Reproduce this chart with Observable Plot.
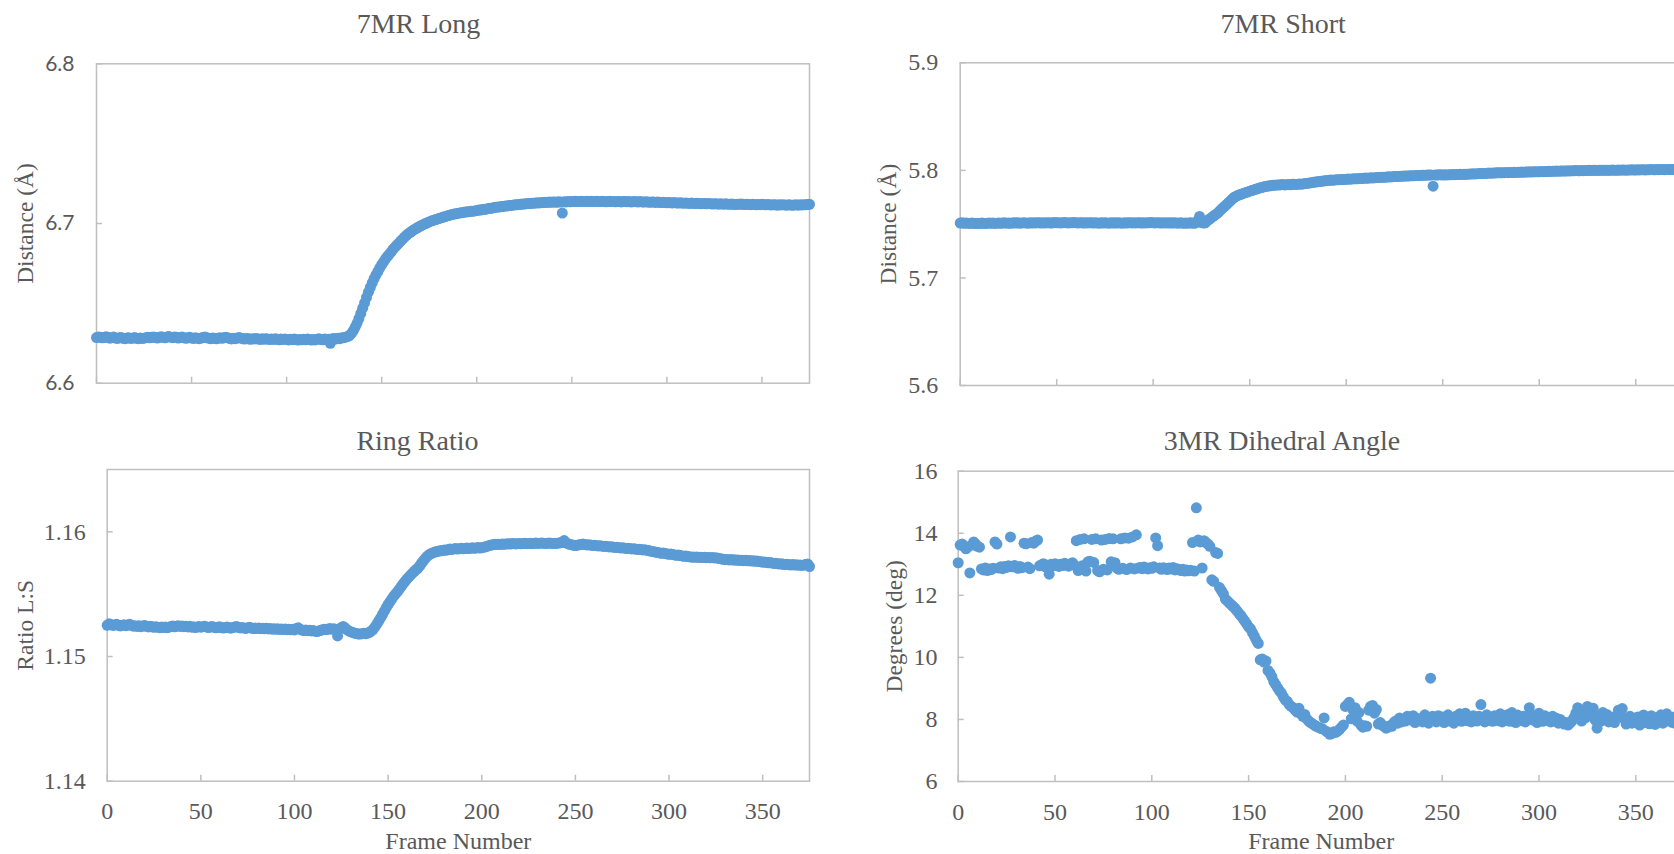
<!DOCTYPE html>
<html>
<head>
<meta charset="utf-8">
<script src="https://cdn.jsdelivr.net/npm/d3@7"></script>
<script src="https://cdn.jsdelivr.net/npm/@observablehq/plot@0.6"></script>
<style>
  html, body { margin: 0; padding: 0; background: #fff; overflow: hidden; }
  #page { position: relative; width: 1674px; height: 854px; overflow: hidden; background: #fff; }
  #page svg { position: absolute; }
</style>
</head>
<body>
<div id="page"></div>
<script>
// Frame-by-frame measurements, frames 0..375 (index = frame number)
const longDist = [
  6.6286,6.6290,6.6288,6.6284,6.6286,6.6291,6.6287,6.6282,6.6285,6.6289,
  6.6283,6.6280,6.6284,6.6286,6.6281,6.6279,6.6283,6.6285,6.6280,6.6282,
  6.6286,6.6281,6.6279,6.6283,6.6280,6.6282,6.6285,6.6288,6.6284,6.6287,
  6.6290,6.6286,6.6283,6.6288,6.6291,6.6287,6.6284,6.6289,6.6292,6.6288,
  6.6285,6.6290,6.6287,6.6283,6.6286,6.6289,6.6285,6.6281,6.6284,6.6287,
  6.6283,6.6280,6.6284,6.6282,6.6279,6.6283,6.6286,6.6289,6.6285,6.6282,
  6.6279,6.6283,6.6281,6.6278,6.6282,6.6285,6.6281,6.6284,6.6288,6.6284,
  6.6280,6.6277,6.6281,6.6279,6.6283,6.6286,6.6282,6.6279,6.6276,6.6280,
  6.6278,6.6275,6.6279,6.6277,6.6280,6.6276,6.6274,6.6278,6.6275,6.6279,
  6.6276,6.6273,6.6277,6.6274,6.6278,6.6275,6.6272,6.6276,6.6274,6.6277,
  6.6274,6.6271,6.6275,6.6273,6.6276,6.6273,6.6270,6.6274,6.6272,6.6275,
  6.6272,6.6276,6.6273,6.6270,6.6274,6.6271,6.6275,6.6278,6.6274,6.6272,
  6.6276,6.6273,6.6275,6.6250,6.6278,6.6280,6.6277,6.6282,6.6279,6.6284,
  6.6285,6.6288,6.6292,6.6298,6.6310,6.6328,6.6350,6.6375,6.6405,6.6437,
  6.6470,6.6503,6.6537,6.6570,6.6600,6.6628,6.6655,6.6678,6.6700,6.6722,
  6.6742,6.6760,6.6778,6.6794,6.6808,6.6823,6.6839,6.6852,6.6864,6.6877,
  6.6890,6.6902,6.6915,6.6926,6.6936,6.6945,6.6953,6.6961,6.6968,6.6975,
  6.6982,6.6988,6.6994,6.7000,6.7005,6.7010,6.7015,6.7019,6.7023,6.7027,
  6.7031,6.7035,6.7039,6.7042,6.7046,6.7050,6.7053,6.7056,6.7059,6.7061,
  6.7063,6.7066,6.7068,6.7070,6.7072,6.7073,6.7074,6.7076,6.7077,6.7079,
  6.7081,6.7084,6.7084,6.7088,6.7089,6.7090,6.7094,6.7095,6.7096,6.7100,
  6.7101,6.7103,6.7104,6.7106,6.7107,6.7110,6.7110,6.7113,6.7113,6.7115,
  6.7117,6.7117,6.7119,6.7120,6.7122,6.7122,6.7124,6.7125,6.7125,6.7127,
  6.7127,6.7128,6.7130,6.7129,6.7131,6.7131,6.7133,6.7132,6.7134,6.7133,
  6.7134,6.7135,6.7133,6.7136,6.7134,6.7065,6.7136,6.7135,6.7137,6.7136,
  6.7138,6.7137,6.7139,6.7137,6.7138,6.7140,6.7138,6.7137,6.7139,6.7138,
  6.7139,6.7137,6.7138,6.7140,6.7138,6.7137,6.7139,6.7138,6.7136,6.7138,
  6.7139,6.7137,6.7138,6.7136,6.7138,6.7137,6.7135,6.7137,6.7138,6.7136,
  6.7137,6.7135,6.7136,6.7138,6.7136,6.7135,6.7137,6.7135,6.7134,6.7136,
  6.7135,6.7133,6.7135,6.7134,6.7132,6.7134,6.7133,6.7131,6.7133,6.7132,
  6.7130,6.7132,6.7130,6.7129,6.7131,6.7129,6.7128,6.7130,6.7128,6.7127,
  6.7129,6.7127,6.7126,6.7128,6.7126,6.7125,6.7127,6.7125,6.7124,6.7126,
  6.7125,6.7123,6.7125,6.7124,6.7122,6.7124,6.7123,6.7121,6.7123,6.7122,
  6.7121,6.7123,6.7121,6.7120,6.7122,6.7121,6.7119,6.7121,6.7120,6.7122,
  6.7120,6.7119,6.7121,6.7119,6.7118,6.7120,6.7119,6.7117,6.7119,6.7118,
  6.7120,6.7118,6.7117,6.7119,6.7117,6.7116,6.7118,6.7117,6.7115,6.7117,
  6.7116,6.7118,6.7116,6.7115,6.7117,6.7116,6.7114,6.7116,6.7117,6.7115,
  6.7117,6.7116,6.7118,6.7117,6.7119,6.7120
];

const shortDist = [
  5.7510,5.7512,5.7508,5.7511,5.7509,5.7507,5.7510,5.7508,5.7506,5.7509,
  5.7507,5.7510,5.7508,5.7506,5.7509,5.7511,5.7508,5.7510,5.7507,5.7509,
  5.7511,5.7508,5.7510,5.7512,5.7509,5.7511,5.7508,5.7510,5.7513,5.7510,
  5.7512,5.7509,5.7511,5.7514,5.7511,5.7509,5.7512,5.7510,5.7513,5.7511,
  5.7514,5.7512,5.7510,5.7513,5.7511,5.7514,5.7512,5.7510,5.7513,5.7515,
  5.7512,5.7514,5.7511,5.7513,5.7516,5.7513,5.7511,5.7514,5.7512,5.7515,
  5.7513,5.7511,5.7514,5.7512,5.7510,5.7513,5.7511,5.7514,5.7512,5.7510,
  5.7513,5.7511,5.7509,5.7512,5.7510,5.7513,5.7511,5.7509,5.7512,5.7510,
  5.7512,5.7510,5.7513,5.7511,5.7509,5.7512,5.7510,5.7512,5.7514,5.7511,
  5.7513,5.7511,5.7514,5.7512,5.7510,5.7513,5.7511,5.7514,5.7512,5.7515,
  5.7513,5.7511,5.7514,5.7512,5.7510,5.7513,5.7511,5.7513,5.7510,5.7512,
  5.7510,5.7513,5.7511,5.7509,5.7512,5.7510,5.7508,5.7511,5.7509,5.7512,
  5.7510,5.7508,5.7511,5.7530,5.7572,5.7515,5.7510,5.7513,5.7534,5.7545,
  5.7558,5.7572,5.7585,5.7597,5.7615,5.7633,5.7650,5.7666,5.7682,5.7700,
  5.7716,5.7734,5.7750,5.7760,5.7768,5.7775,5.7781,5.7788,5.7794,5.7800,
  5.7806,5.7812,5.7818,5.7824,5.7830,5.7836,5.7840,5.7845,5.7849,5.7852,
  5.7856,5.7858,5.7861,5.7862,5.7865,5.7863,5.7866,5.7868,5.7865,5.7867,
  5.7869,5.7866,5.7870,5.7872,5.7869,5.7871,5.7874,5.7872,5.7875,5.7877,
  5.7880,5.7883,5.7886,5.7889,5.7891,5.7894,5.7896,5.7898,5.7901,5.7903,
  5.7905,5.7907,5.7910,5.7908,5.7911,5.7913,5.7912,5.7914,5.7916,5.7915,
  5.7917,5.7919,5.7918,5.7920,5.7922,5.7921,5.7923,5.7925,5.7924,5.7926,
  5.7928,5.7927,5.7929,5.7931,5.7930,5.7932,5.7934,5.7933,5.7935,5.7937,
  5.7936,5.7938,5.7940,5.7939,5.7941,5.7943,5.7942,5.7944,5.7946,5.7945,
  5.7947,5.7948,5.7947,5.7949,5.7951,5.7950,5.7952,5.7953,5.7952,5.7954,
  5.7955,5.7954,5.7956,5.7957,5.7956,5.7853,5.7958,5.7957,5.7959,5.7960,
  5.7957,5.7959,5.7958,5.7960,5.7959,5.7961,5.7960,5.7962,5.7961,5.7963,
  5.7962,5.7964,5.7963,5.7965,5.7967,5.7966,5.7968,5.7967,5.7969,5.7971,
  5.7970,5.7972,5.7971,5.7973,5.7975,5.7974,5.7976,5.7975,5.7977,5.7978,
  5.7977,5.7979,5.7978,5.7980,5.7979,5.7981,5.7980,5.7982,5.7981,5.7983,
  5.7982,5.7984,5.7983,5.7985,5.7984,5.7986,5.7985,5.7987,5.7986,5.7988,
  5.7987,5.7989,5.7988,5.7990,5.7989,5.7991,5.7990,5.7992,5.7991,5.7993,
  5.7992,5.7994,5.7993,5.7995,5.7994,5.7996,5.7995,5.7997,5.7996,5.7998,
  5.7997,5.7996,5.7998,5.7997,5.7999,5.7998,5.8000,5.7999,5.8001,5.8000,
  5.7999,5.8001,5.8000,5.8002,5.8001,5.8000,5.8002,5.8001,5.8003,5.8002,
  5.8001,5.8003,5.8002,5.8004,5.8003,5.8002,5.8004,5.8003,5.8005,5.8004,
  5.8003,5.8005,5.8004,5.8006,5.8005,5.8004,5.8006,5.8005,5.8007,5.8006,
  5.8005,5.8007,5.8006,5.8008,5.8007,5.8006,5.8008,5.8007,5.8009,5.8008,
  5.8007,5.8009,5.8008,5.8010,5.8009,5.8010
];

const ringRatio = [
  1.15250,1.15262,1.15256,1.15249,1.15253,1.15258,1.15250,1.15245,1.15249,1.15255,
  1.15247,1.15252,1.15258,1.15249,1.15243,1.15247,1.15241,1.15246,1.15239,1.15244,
  1.15249,1.15242,1.15237,1.15242,1.15238,1.15234,1.15239,1.15235,1.15231,1.15236,
  1.15232,1.15237,1.15231,1.15235,1.15240,1.15244,1.15238,1.15243,1.15247,1.15241,
  1.15245,1.15239,1.15243,1.15237,1.15242,1.15235,1.15239,1.15232,1.15236,1.15240,
  1.15235,1.15239,1.15243,1.15237,1.15232,1.15236,1.15241,1.15235,1.15230,1.15234,
  1.15238,1.15232,1.15228,1.15233,1.15237,1.15231,1.15227,1.15232,1.15236,1.15240,
  1.15234,1.15229,1.15233,1.15228,1.15225,1.15230,1.15234,1.15228,1.15224,1.15229,
  1.15225,1.15229,1.15223,1.15227,1.15222,1.15226,1.15221,1.15225,1.15219,1.15223,
  1.15218,1.15222,1.15217,1.15221,1.15216,1.15220,1.15215,1.15219,1.15214,1.15218,
  1.15213,1.15225,1.15230,1.15218,1.15212,1.15208,1.15213,1.15207,1.15211,1.15205,
  1.15209,1.15203,1.15200,1.15205,1.15210,1.15214,1.15219,1.15215,1.15220,1.15224,
  1.15218,1.15222,1.15216,1.15165,1.15220,1.15232,1.15240,1.15230,1.15215,1.15205,
  1.15198,1.15193,1.15188,1.15184,1.15181,1.15180,1.15183,1.15186,1.15182,1.15188,
  1.15194,1.15203,1.15218,1.15238,1.15260,1.15285,1.15310,1.15337,1.15364,1.15392,
  1.15418,1.15440,1.15462,1.15484,1.15502,1.15520,1.15540,1.15562,1.15582,1.15602,
  1.15620,1.15636,1.15652,1.15668,1.15684,1.15698,1.15710,1.15730,1.15752,1.15772,
  1.15790,1.15806,1.15818,1.15826,1.15833,1.15838,1.15842,1.15846,1.15848,1.15851,
  1.15855,1.15852,1.15858,1.15862,1.15859,1.15863,1.15866,1.15862,1.15865,1.15868,
  1.15864,1.15867,1.15870,1.15866,1.15869,1.15872,1.15868,1.15871,1.15874,1.15870,
  1.15873,1.15876,1.15880,1.15885,1.15890,1.15894,1.15897,1.15900,1.15898,1.15901,
  1.15899,1.15902,1.15900,1.15903,1.15905,1.15902,1.15904,1.15906,1.15903,1.15905,
  1.15907,1.15904,1.15906,1.15908,1.15905,1.15907,1.15909,1.15906,1.15908,1.15910,
  1.15907,1.15909,1.15911,1.15908,1.15906,1.15909,1.15911,1.15908,1.15906,1.15909,
  1.15907,1.15910,1.15912,1.15915,1.15930,1.15912,1.15905,1.15900,1.15896,1.15893,
  1.15890,1.15893,1.15896,1.15899,1.15902,1.15898,1.15895,1.15897,1.15894,1.15891,
  1.15893,1.15890,1.15887,1.15889,1.15886,1.15883,1.15885,1.15882,1.15879,1.15881,
  1.15878,1.15875,1.15877,1.15874,1.15871,1.15873,1.15870,1.15867,1.15869,1.15866,
  1.15863,1.15865,1.15862,1.15859,1.15861,1.15858,1.15855,1.15857,1.15853,1.15850,
  1.15846,1.15843,1.15840,1.15837,1.15834,1.15831,1.15828,1.15830,1.15826,1.15823,
  1.15820,1.15822,1.15818,1.15815,1.15812,1.15814,1.15810,1.15807,1.15804,1.15806,
  1.15802,1.15800,1.15797,1.15799,1.15796,1.15798,1.15795,1.15797,1.15794,1.15796,
  1.15793,1.15795,1.15792,1.15794,1.15791,1.15793,1.15789,1.15786,1.15783,1.15780,
  1.15777,1.15779,1.15775,1.15778,1.15774,1.15776,1.15772,1.15775,1.15771,1.15773,
  1.15769,1.15772,1.15768,1.15770,1.15766,1.15768,1.15764,1.15766,1.15762,1.15760,
  1.15757,1.15759,1.15755,1.15752,1.15754,1.15750,1.15747,1.15749,1.15745,1.15742,
  1.15744,1.15740,1.15738,1.15741,1.15737,1.15735,1.15738,1.15734,1.15736,1.15733,
  1.15735,1.15731,1.15734,1.15738,1.15742,1.15722
];

const dihedral = [
  13.05,13.62,13.65,13.58,13.50,13.55,12.72,13.62,13.72,13.65,
  13.58,13.55,12.85,12.82,12.88,12.80,12.85,12.83,12.87,13.72,
  13.65,12.88,12.92,12.86,12.93,12.90,12.95,13.88,12.92,12.96,
  12.90,12.87,12.93,12.89,13.68,13.66,12.91,12.86,13.70,13.68,
  13.75,13.78,12.95,12.98,13.02,12.92,12.97,12.68,13.00,12.95,
  13.02,12.98,12.93,13.00,12.96,13.03,12.98,12.94,13.01,13.05,
  12.97,13.76,12.80,13.80,12.95,13.82,12.78,13.08,13.10,13.80,
  13.06,13.82,12.80,12.76,13.78,12.84,13.80,12.82,13.83,13.08,
  13.82,13.05,12.88,12.84,13.82,12.87,13.85,12.83,13.84,12.88,
  13.88,12.85,13.95,12.88,12.90,12.86,12.91,12.88,12.85,12.89,
  12.87,12.92,13.85,13.60,12.88,12.84,12.89,12.86,12.83,12.88,
  12.85,12.90,12.82,12.86,12.83,12.80,12.84,12.78,12.82,12.79,
  12.81,13.70,12.78,14.82,13.78,13.72,12.88,13.76,13.70,13.65,
  13.58,12.50,12.45,13.38,13.35,12.25,12.15,12.05,11.88,11.82,
  11.76,11.70,11.64,11.58,11.50,11.42,11.35,11.26,11.17,11.08,
  10.98,10.92,10.80,10.68,10.55,10.45,9.92,9.95,9.85,9.88,
  9.58,9.50,9.38,9.22,9.12,9.02,8.92,8.84,8.72,8.62,
  8.58,8.48,8.42,8.38,8.30,8.24,8.36,8.18,8.10,8.16,
  8.02,7.95,7.90,7.86,7.82,7.78,7.75,7.72,7.70,8.05,
  7.62,7.58,7.52,7.55,7.60,7.58,7.62,7.68,7.75,7.82,
  8.42,8.48,8.55,8.02,8.30,8.38,7.95,8.22,7.82,7.75,
  7.80,7.78,8.30,8.42,8.45,8.20,8.32,7.85,7.90,7.82,
  7.78,7.72,7.75,7.80,7.78,7.90,7.95,7.88,8.05,7.92,
  8.00,7.95,8.10,8.02,7.98,8.12,7.90,8.04,7.96,8.00,
  7.92,8.15,8.05,7.88,9.33,8.10,8.05,7.92,8.12,7.98,
  8.08,7.90,8.02,8.15,7.95,8.06,7.88,8.10,8.00,8.18,
  7.94,8.08,8.20,7.96,8.04,7.92,8.12,8.00,7.95,8.10,
  8.48,8.05,7.92,8.15,7.98,8.06,7.94,8.12,8.02,7.96,
  8.18,7.92,8.08,8.00,8.16,7.94,8.22,8.04,7.90,8.14,
  8.00,7.96,8.10,7.92,8.06,8.38,8.15,7.98,8.08,7.90,
  8.20,8.02,7.94,8.12,7.98,8.06,7.92,8.10,7.95,8.04,
  7.88,8.00,7.92,7.85,7.90,7.82,7.88,7.95,8.05,8.20,
  8.38,8.12,7.95,8.25,8.05,8.42,8.30,8.18,8.36,7.98,
  7.72,8.10,7.95,8.22,8.05,8.16,7.92,8.08,7.98,7.90,
  8.12,8.30,8.18,8.35,8.02,7.85,7.95,8.10,7.88,8.00,
  7.92,8.08,7.82,7.96,8.14,7.90,8.04,7.86,8.12,7.98,
  7.84,8.06,7.92,8.15,7.88,8.10,8.18,7.95,8.05,7.90,
  8.08,7.85,8.00,7.92,8.10,7.96
];

// Axis ticks
const frameTicks = [0, 50, 100, 150, 200, 250, 300, 350];
const longTicks = [6.6, 6.7, 6.8];
const shortTicks = [5.6, 5.7, 5.8, 5.9];
const ratioTicks = [1.14, 1.15, 1.16];
const angleTicks = [6, 8, 10, 12, 14, 16];

const BLUE = "#5b9bd5";
const INK = "#595959";
const RULE = "#bfbfbf";
const SERIF = "'Liberation Serif', 'Times New Roman', serif";

const panels = [
  {
    title: "7MR Long", yLabel: "Distance (Å)", values: longDist,
    yDomain: [6.6, 6.8], yTicks: longTicks, fmt: d => d.toFixed(1),
    tickFont: "Lato, 'Open Sans', sans-serif", tickSize: 21, yPad: 28,
    left: 0, top: 0, width: 837, height: 420,
    ml: 96, mr: 28, mt: 63.3, mb: 37.3,
    tdx: -34.5, tdy: -31.3, ldx: -80.5, xLabels: false
  },
  {
    title: "7MR Short", yLabel: "Distance (Å)", values: shortDist,
    yDomain: [5.6, 5.9], yTicks: shortTicks, fmt: d => d.toFixed(1),
    tickFont: SERIF, tickSize: 24, yPad: 28,
    left: 837, top: 0, width: 900, height: 420,
    ml: 122.7, mr: 53.5, mt: 62.3, mb: 35,
    tdx: -38.9, tdy: -30, ldx: -80.7, xLabels: false
  },
  {
    title: "Ring Ratio", yLabel: "Ratio L:S", values: ringRatio,
    yDomain: [1.14, 1.165], yTicks: ratioTicks, fmt: d => d.toFixed(2),
    tickFont: SERIF, tickSize: 24, yPad: 27.5,
    left: 0, top: 420, width: 837, height: 434,
    ml: 106.7, mr: 28, mt: 49, mb: 73.3,
    tdx: -40.9, tdy: -19.7, ldx: -91.2, xLabels: true
  },
  {
    title: "3MR Dihedral Angle", yLabel: "Degrees (deg)", values: dihedral,
    yDomain: [6, 16], yTicks: angleTicks, fmt: d => String(d),
    tickFont: SERIF, tickSize: 24, yPad: 26.7,
    left: 837, top: 420, width: 900, height: 434,
    ml: 120.7, mr: 53.3, mt: 50.7, mb: 73,
    tdx: -39.2, tdy: -21.4, ldx: -72.7, xLabels: true
  }
];

const page = document.getElementById("page");

for (const p of panels) {
  const chart = Plot.plot({
    width: p.width,
    height: p.height,
    marginLeft: p.ml,
    marginRight: p.mr,
    marginTop: p.mt,
    marginBottom: p.mb,
    style: {fontFamily: SERIF, fontSize: "24px", color: INK, background: "transparent", overflow: "visible"},
    x: {domain: [0, 375]},
    y: {domain: p.yDomain},
    marks: [
      Plot.frame({stroke: RULE, strokeWidth: 1.5}),
      Plot.axisY(p.yTicks, {
        anchor: "left", tickSize: -6, tickPadding: p.yPad, stroke: RULE, strokeWidth: 1.5,
        fill: INK, tickFormat: p.fmt, label: null, fontFamily: p.tickFont, fontSize: p.tickSize
      }),
      Plot.axisX(frameTicks, {
        anchor: "bottom", tickSize: -6, tickPadding: 27, stroke: RULE, strokeWidth: 1.5,
        fill: INK, tickFormat: p.xLabels ? d => String(d) : () => "", label: null,
        fontFamily: SERIF, fontSize: 24
      }),
      Plot.dot(p.values, {x: (d, i) => i, y: d => d, r: 5.5, fill: BLUE}),
      Plot.text([p.title], {
        text: d => d, frameAnchor: "top", lineAnchor: "bottom", textAnchor: "middle",
        dx: p.tdx, dy: p.tdy, fontSize: 28, fill: INK
      }),
      Plot.text([p.yLabel], {
        text: d => d, frameAnchor: "left", rotate: -90, lineAnchor: "top", textAnchor: "middle",
        dx: p.ldx, fontSize: 23.5, fill: INK
      }),
      p.xLabels
        ? Plot.text(["Frame Number"], {
            text: d => d, frameAnchor: "bottom", lineAnchor: "bottom", textAnchor: "middle",
            dy: 67.3, fontSize: 24, fill: INK
          })
        : null
    ]
  });
  chart.style.left = p.left + "px";
  chart.style.top = p.top + "px";
  chart.style.maxWidth = "none";
  page.appendChild(chart);
}
</script>
</body>
</html>
